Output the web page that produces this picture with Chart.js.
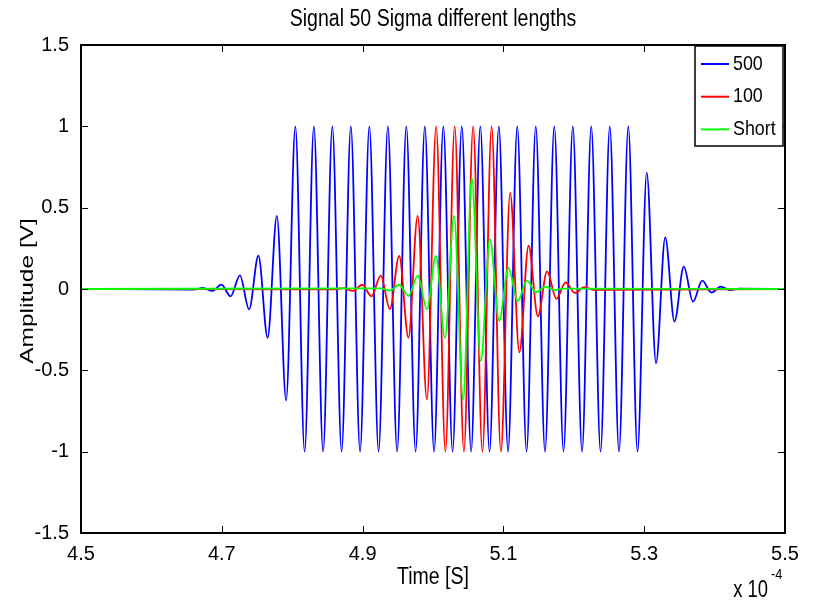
<!DOCTYPE html>
<html>
<head>
<meta charset="utf-8">
<script src="https://cdn.jsdelivr.net/npm/chart.js@4/dist/chart.umd.min.js"></script>
<style>
  html,body{margin:0;padding:0;background:#fff;}
  canvas{display:block;}
</style>
</head>
<body>
<canvas id="c" width="813" height="600"></canvas>
<script>
// time axis in units of 1e-4 s, values read at each peak / trough
const xTicks = [4.5, 4.7, 4.9, 5.1, 5.3, 5.5];
const yTicks = [-1.5, -1, -0.5, 0, 0.5, 1, 1.5];
const names = ["500", "100", "Short"];
const colors = ["#0000ff", "#ff0000", "#00ff00"];

const time500 = [4.5,
  4.6600, 4.6732, 4.6863, 4.6994, 4.7126, 4.7257, 4.7388, 4.7520, 4.7651, 4.7782, 4.7914,
  4.8045, 4.8176, 4.8308, 4.8439, 4.8570, 4.8702, 4.8833, 4.8964, 4.9096, 4.9227,
  4.9359, 4.9490, 4.9621, 4.9753, 4.9884, 5.0015, 5.0147, 5.0278, 5.0409, 5.0541,
  5.0672, 5.0803, 5.0935, 5.1066, 5.1197, 5.1329, 5.1460, 5.1591, 5.1723, 5.1854,
  5.1986, 5.2117, 5.2248, 5.2380, 5.2511, 5.2642, 5.2774, 5.2905,
  5.3036, 5.3168, 5.3299, 5.3430, 5.3562, 5.3693, 5.3824, 5.3956, 5.4087, 5.4218, 5.4350,
  5.5];
const amp500 = [0,
  -0.003, 0.006, -0.012, 0.027, -0.045, 0.084, -0.125, 0.205, -0.30, 0.45, -0.685,
  1, -1, 1, -1, 1, -1, 1, -1, 1, -1,
  1, -1, 1, -1, 1, -1, 1, -1, 1, -1,
  1, -1, 1, -1, 1, -1, 1, -1, 1, -1,
  1, -1, 1, -1, 1, -1, 1, -1,
  0.716, -0.456, 0.317, -0.20, 0.137, -0.078, 0.051, -0.022, 0.014, -0.006, 0.002,
  0];

const time100 = [4.5,
  4.8600, 4.8732, 4.8863, 4.8994, 4.9126, 4.9257, 4.9388, 4.9520, 4.9651, 4.9782, 4.9914,
  5.0045, 5.0176, 5.0308, 5.0439, 5.0570, 5.0702, 5.0833, 5.0964,
  5.1096, 5.1227, 5.1358, 5.1490, 5.1621, 5.1752, 5.1884, 5.2015, 5.2146, 5.2278,
  5.5];
const amp100 = [0,
  -0.002, 0.005, -0.012, 0.026, -0.045, 0.082, -0.123, 0.204, -0.30, 0.45, -0.68,
  1, -1, 1, -1, 1, -1, 1, -1,
  0.593, -0.39, 0.266, -0.168, 0.108, -0.061, 0.041, -0.024, 0.012, -0.005,
  0];

const timeShort = [4.5,
  4.9256, 4.9388, 4.9520, 4.9651, 4.9783, 4.9914,
  5.0041, 5.0170, 5.0299, 5.0428, 5.0551, 5.0679, 5.0809, 5.0940,
  5.1072, 5.1203, 5.1334, 5.1464, 5.1595, 5.1726, 5.1857,
  5.5];
const ampShort = [0,
  0.004, -0.01, 0.026, -0.043, 0.082, -0.123,
  0.204, -0.30, 0.45, -0.68, 0.685, -0.443, 0.307, -0.196,
  0.129, -0.075, 0.051, -0.02, 0.014, -0.006, 0.002,
  0];

const series = [[time500, amp500], [time100, amp100], [timeShort, ampShort]];

const FONT = '"Liberation Sans", Arial, sans-serif';
function txt(ctx, s, x, y, size, align, sx, base) {
  ctx.save();
  ctx.translate(x, y);
  ctx.scale(sx, 1);
  ctx.font = size + "px " + FONT;
  ctx.textAlign = align;
  ctx.textBaseline = base || "middle";
  ctx.fillStyle = "#000";
  ctx.fillText(s, 0, 0);
  ctx.restore();
}

const matlabBox = {
  id: "matlabBox",
  afterDatasetsDraw(chart) {
    const ctx = chart.ctx, a = chart.chartArea;
    const xs = chart.scales.x, ys = chart.scales.y;
    ctx.save();
    ctx.strokeStyle = "#000";
    ctx.lineWidth = 1;
    ctx.beginPath();
    xTicks.forEach(v => {
      const px = Math.round(xs.getPixelForValue(v)) + 0.5;
      ctx.moveTo(px, a.bottom); ctx.lineTo(px, a.bottom - 7);
      ctx.moveTo(px, a.top); ctx.lineTo(px, a.top + 7);
    });
    yTicks.forEach(v => {
      const py = Math.round(ys.getPixelForValue(v)) + 0.5;
      ctx.moveTo(a.left, py); ctx.lineTo(a.left + 7, py);
      ctx.moveTo(a.right, py); ctx.lineTo(a.right - 7, py);
    });
    ctx.stroke();
    ctx.lineWidth = 2;
    ctx.strokeRect(a.left, a.top, a.right - a.left, a.bottom - a.top);

    // legend
    const lx = 695, ly = 46, lw = 88, lh = 100;
    ctx.fillStyle = "#fff";
    ctx.fillRect(lx, ly, lw, lh);
    ctx.lineWidth = 1.5;
    ctx.strokeRect(lx, ly, lw, lh);
    chart.data.datasets.forEach((ds, i) => {
      const yy = 64 + i * 32.7;
      ctx.strokeStyle = ds.borderColor;
      ctx.lineWidth = 2;
      ctx.beginPath(); ctx.moveTo(701, yy); ctx.lineTo(729, yy); ctx.stroke();
      txt(ctx, ds.label, 733, yy, 21, "left", 0.85);
    });

    txt(ctx, "Signal 50 Sigma different lengths", (a.left + a.right) / 2, 20, 23, "center", 0.85);
    txt(ctx, "Time [S]", (a.left + a.right) / 2, 578, 23, "center", 0.85);
    txt(ctx, "x 10", 768, 597, 23, "right", 0.8, "alphabetic");
    txt(ctx, "-4", 771, 579, 15, "left", 0.85, "alphabetic");

    ctx.save();
    ctx.translate(27.5, 291);
    ctx.rotate(-Math.PI / 2);
    ctx.scale(1, 0.75);
    ctx.font = "24.5px " + FONT;
    ctx.textAlign = "center";
    ctx.textBaseline = "middle";
    ctx.fillStyle = "#000";
    ctx.fillText("Amplitude [V]", 0, 0);
    ctx.restore();
    ctx.restore();
  }
};

const tickFont = { family: '"Liberation Sans", Arial, sans-serif', size: 20 };

new Chart(document.getElementById("c").getContext("2d"), {
  type: "scatter",
  data: {
    datasets: series.map((s, i) => ({
      label: names[i],
      data: s[0].map((t, j) => ({ x: t, y: s[1][j] })),
      borderColor: colors[i],
      backgroundColor: colors[i],
      borderWidth: 1.8,
      showLine: true,
      pointRadius: 0,
      cubicInterpolationMode: "monotone",
      order: 3 - i
    }))
  },
  options: {
    responsive: false,
    animation: false,
    devicePixelRatio: 1,
    layout: { padding: { left: 0, right: 28, top: 45, bottom: 0 } },
    plugins: { legend: { display: false }, title: { display: false }, tooltip: { enabled: false } },
    scales: {
      x: {
        type: "linear", min: 4.5, max: 5.5,
        afterBuildTicks: s => { s.ticks = xTicks.map(v => ({ value: v })); },
        afterFit: s => { s.height = 67; },
        grid: { display: false },
        border: { display: false },
        ticks: { color: "#000", font: tickFont, padding: 1, maxRotation: 0, autoSkip: false,
                 callback: v => v.toFixed(1) }
      },
      y: {
        type: "linear", min: -1.5, max: 1.5,
        afterBuildTicks: s => { s.ticks = yTicks.map(v => ({ value: v })); },
        afterFit: s => { s.width = 81; },
        grid: { display: false },
        border: { display: false },
        ticks: { color: "#000", font: tickFont, padding: 4, autoSkip: false,
                 callback: v => String(v) }
      }
    }
  },
  plugins: [matlabBox]
});
</script>
</body>
</html>
